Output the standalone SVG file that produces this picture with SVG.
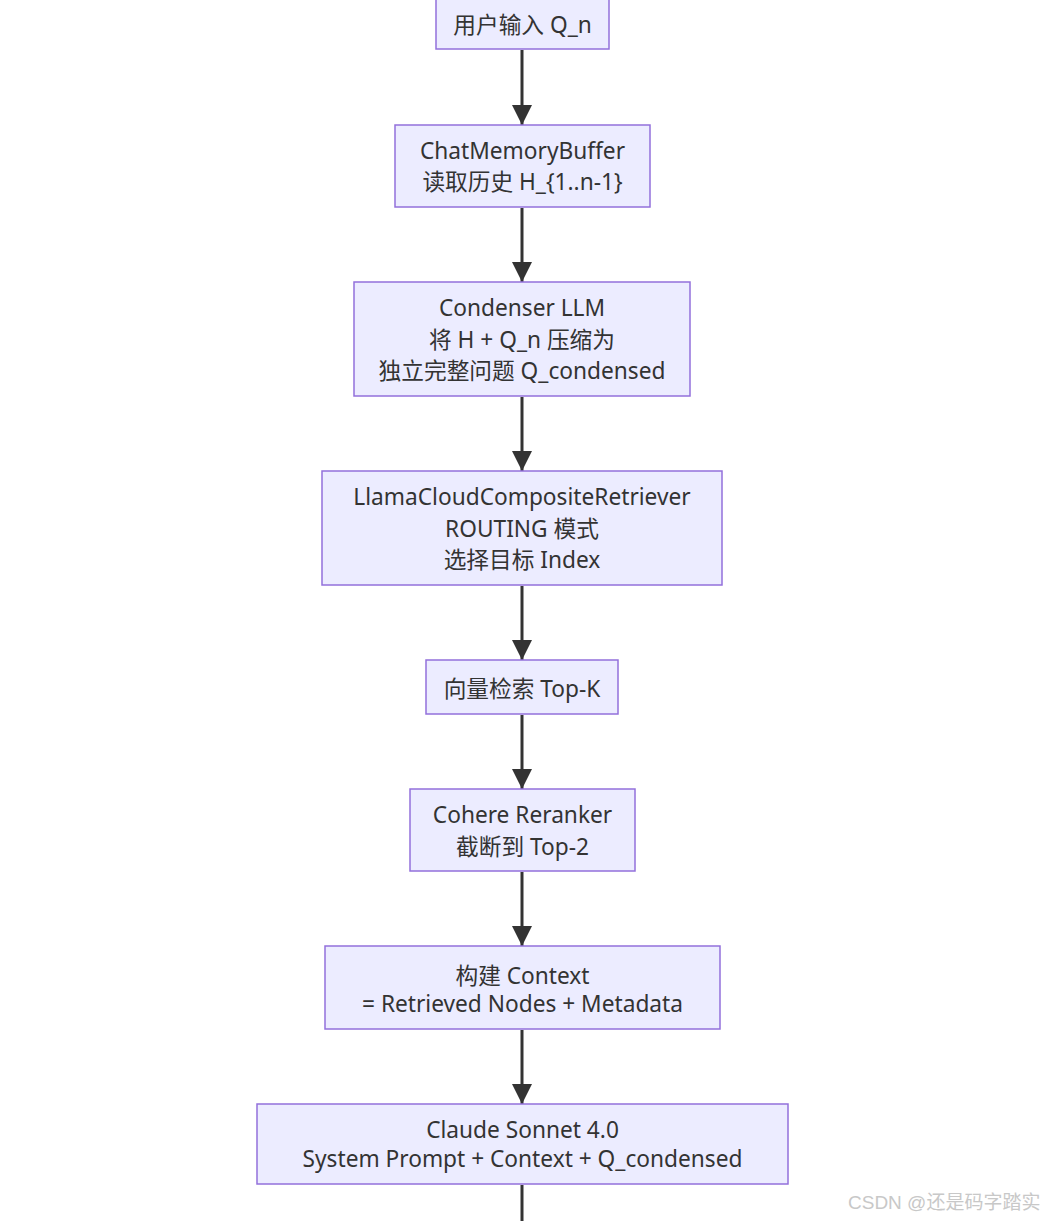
<svg xmlns="http://www.w3.org/2000/svg" width="1044" height="1221" viewBox="0 0 1044 1221">
<style>
.node rect{fill:#ECECFF;stroke:#9370DB;stroke-width:1.5}
.node text{font-family:"Noto Sans","Noto Sans CJK SC",sans-serif;font-size:22.7px;fill:#333;text-anchor:middle}
.edges path{stroke:#333;stroke-width:3;fill:none}
.wm{font-family:"Liberation Sans","Noto Sans CJK SC",sans-serif;font-size:19px;fill:#c8c8c8}
</style>
<defs>
<marker id="arr" markerUnits="userSpaceOnUse" markerWidth="20" markerHeight="20" refX="18" refY="9" orient="auto" viewBox="0 0 18 18">
<path d="M0,0 L18,9 L0,18 Z" fill="#333"/>
</marker>
</defs>
<rect width="1044" height="1221" fill="#fff"/>
<g class="edges">
<path d="M522,50 V125" marker-end="url(#arr)"/>
<path d="M522,208 V282" marker-end="url(#arr)"/>
<path d="M522,397 V471" marker-end="url(#arr)"/>
<path d="M522,586 V660" marker-end="url(#arr)"/>
<path d="M522,715 V789" marker-end="url(#arr)"/>
<path d="M522,872 V946" marker-end="url(#arr)"/>
<path d="M522,1030 V1104" marker-end="url(#arr)"/>
<path d="M522,1185 V1221"/>
</g>
<g id="n1" class="node"><rect x="436" y="-10" width="173" height="59"/><text x="522.5" y="33">用户输入 Q_n</text></g>
<g id="n2" class="node"><rect x="395" y="125" width="255" height="82"/><text x="522.5" y="159">ChatMemoryBuffer</text><text x="522.5" y="190">读取历史 H_{1..n-1}</text></g>
<g id="n3" class="node"><rect x="354" y="282" width="336" height="114"/><text x="522" y="316">Condenser LLM</text><text x="522" y="348">将 H + Q_n 压缩为</text><text x="522" y="379">独立完整问题 Q_condensed</text></g>
<g id="n4" class="node"><rect x="322" y="471" width="400" height="114"/><text x="522" y="505">LlamaCloudCompositeRetriever</text><text x="522" y="537">ROUTING 模式</text><text x="522" y="568">选择目标 Index</text></g>
<g id="n5" class="node"><rect x="426" y="660" width="192" height="54"/><text x="522" y="697">向量检索 Top-K</text></g>
<g id="n6" class="node"><rect x="410" y="789" width="225" height="82"/><text x="522.5" y="823">Cohere Reranker</text><text x="522.5" y="855">截断到 Top-2</text></g>
<g id="n7" class="node"><rect x="325" y="946" width="395" height="83"/><text x="522.5" y="984">构建 Context</text><text x="522.5" y="1012">= Retrieved Nodes + Metadata</text></g>
<g id="n8" class="node"><rect x="257" y="1104" width="531" height="80"/><text x="522.5" y="1138">Claude Sonnet 4.0</text><text x="522.5" y="1167">System Prompt + Context + Q_condensed</text></g>
<text class="wm" x="848" y="1209">CSDN @还是码字踏实</text>
</svg>
